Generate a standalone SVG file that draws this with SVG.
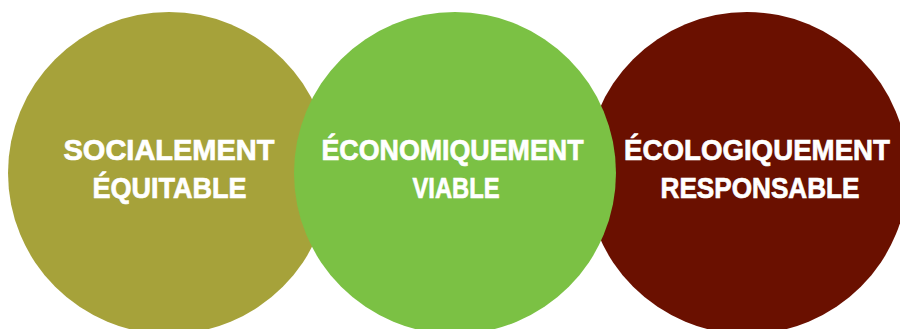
<svg xmlns="http://www.w3.org/2000/svg" width="900" height="329" viewBox="0 0 900 329">
<style>
.lbl{font-family:"Liberation Sans",Arial,sans-serif;font-weight:bold;font-size:30px;fill:#ffffff;stroke:#ffffff;stroke-width:0.7px;text-anchor:middle}
</style>
<rect width="900" height="329" fill="#ffffff"/>
<g id="social">
<circle cx="169" cy="173" r="161" fill="#A6A23A"/>
<text class="lbl" x="169" y="160" textLength="211" lengthAdjust="spacingAndGlyphs">SOCIALEMENT</text>
<text class="lbl" x="169.5" y="198" textLength="154" lengthAdjust="spacingAndGlyphs">ÉQUITABLE</text>
</g>
<g id="ecologique">
<circle cx="747" cy="173" r="161" fill="#6A1000"/>
<text class="lbl" x="757" y="160" textLength="266" lengthAdjust="spacingAndGlyphs">ÉCOLOGIQUEMENT</text>
<text class="lbl" x="760" y="198" textLength="199" lengthAdjust="spacingAndGlyphs">RESPONSABLE</text>
</g>
<g id="economique">
<circle cx="455" cy="173" r="161" fill="#7BC144"/>
<text class="lbl" x="452.5" y="160" textLength="262" lengthAdjust="spacingAndGlyphs">ÉCONOMIQUEMENT</text>
<text class="lbl" x="456" y="198" textLength="87" lengthAdjust="spacingAndGlyphs">VIABLE</text>
</g>
<g id="connectors"/>
</svg>
